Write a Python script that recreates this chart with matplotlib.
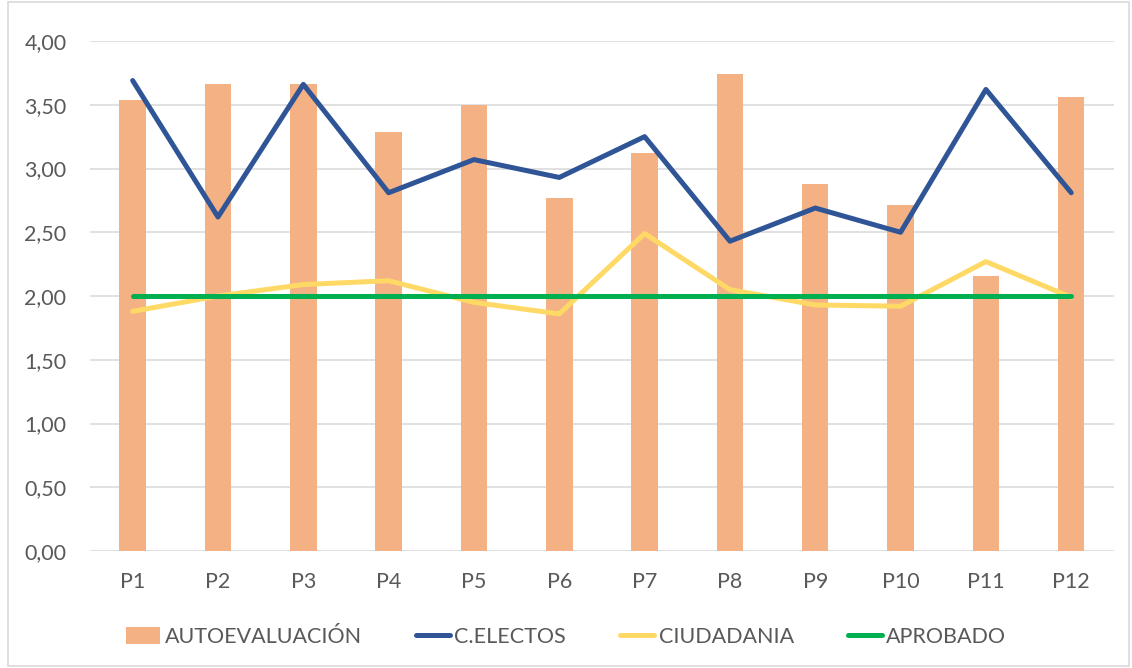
import numpy as np
import matplotlib.pyplot as plt
from matplotlib.patches import Rectangle
from matplotlib.ticker import FuncFormatter

plt.rcParams['font.family'] = ['Lato', 'DejaVu Sans']

categorias = ["P1", "P2", "P3", "P4", "P5", "P6", "P7", "P8", "P9", "P10", "P11", "P12"]
autoevaluacion = [3.54, 3.66, 3.66, 3.29, 3.50, 2.77, 3.12, 3.74, 2.88, 2.71, 2.16, 3.56]
c_electos = [3.69, 2.62, 3.66, 2.81, 3.07, 2.93, 3.25, 2.43, 2.69, 2.50, 3.62, 2.81]
ciudadania = [1.88, 2.00, 2.09, 2.12, 1.95, 1.86, 2.49, 2.05, 1.93, 1.92, 2.27, 1.99]
aprobado = [2.00] * 12

gris = "#595959"

fig = plt.figure(figsize=(11.32, 6.68), dpi=100)
ax = fig.add_axes([0.0795, 0.1751, 0.9045, 0.7635])

# marco del grafico
fig.patches.append(Rectangle((0.007, 0.003), 0.99, 0.994, transform=fig.transFigure,
                             fill=False, edgecolor="#d9d9d9", linewidth=1.2))

x = np.arange(len(categorias))
barras = ax.bar(x, autoevaluacion, width=0.31, color="#F4B183", label="AUTOEVALUACIÓN", zorder=2)
l1, = ax.plot(x, c_electos, color="#2F5597", linewidth=3.6, label="C.ELECTOS", zorder=3,
              solid_capstyle="round")
l2, = ax.plot(x, ciudadania, color="#FFD966", linewidth=3.6, label="CIUDADANIA", zorder=3,
              solid_capstyle="round")
l3, = ax.plot(x, aprobado, color="#00B050", linewidth=3.6, label="APROBADO", zorder=4,
              solid_capstyle="round")

ax.set_xlim(-0.5, len(categorias) - 0.5)
ax.set_ylim(0, 4)
ax.set_yticks(np.arange(0, 4.01, 0.5))
ax.yaxis.set_major_formatter(FuncFormatter(lambda v, p: f"{v:.2f}".replace(".", ",")))
ax.set_xticks(x)
ax.set_xticklabels(categorias)
ax.grid(axis="y", color="#d9d9d9", linewidth=1.1, zorder=0)
ax.set_axisbelow(True)
for s in ax.spines.values():
    s.set_visible(False)
ax.tick_params(length=0, labelsize=15.5, labelcolor=gris)
ax.tick_params(axis="y", pad=17)
ax.tick_params(axis="x", pad=15)

leg = ax.legend(handles=[barras, l1, l2, l3], loc="upper center", bbox_to_anchor=(0.465, -0.11),
                ncol=4, frameon=False, fontsize=15.5, handlelength=1.6, handleheight=0.9,
                handletextpad=0.2, columnspacing=2.5)
for t in leg.get_texts():
    t.set_color(gris)

fig.savefig("out.png", dpi=100)
